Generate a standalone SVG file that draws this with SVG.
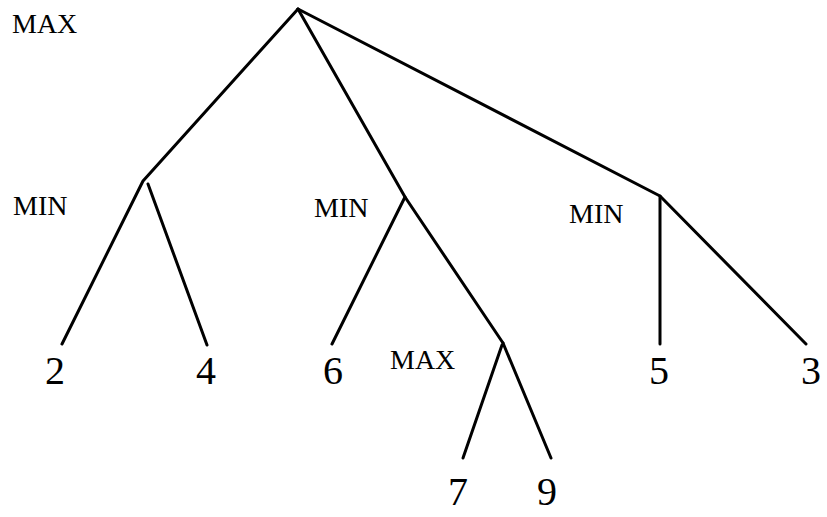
<svg xmlns="http://www.w3.org/2000/svg" width="827" height="517" viewBox="0 0 827 517">
<style>
.e{fill:none;stroke:#000;stroke-width:3;stroke-linecap:round;stroke-linejoin:round}
.l{font-family:"Liberation Serif","Times New Roman",serif;font-size:28px;fill:#000}
.n{font-family:"Liberation Serif","Times New Roman",serif;font-size:40px;fill:#000;text-anchor:middle}
</style>
<rect width="827" height="517" fill="#fff"/>
<g id="connectors">
<polyline class="e" points="298,9 143,181 62,344"/>
<line class="e" x1="148" y1="184" x2="207" y2="345"/>
<polyline class="e" points="298,9 405,197 503,343"/>
<line class="e" x1="405" y1="197" x2="332" y2="344"/>
<polyline class="e" points="298,9 660,196 806,344"/>
<line class="e" x1="660" y1="196" x2="660" y2="344"/>
<line class="e" x1="502" y1="345" x2="463" y2="458"/>
<line class="e" x1="503" y1="343" x2="551" y2="458"/>
</g>
<g id="root"><text class="l" x="12" y="33">MAX</text></g>
<g id="min1"><text class="l" x="13" y="215">MIN</text></g>
<g id="min2"><text class="l" x="314" y="217">MIN</text></g>
<g id="min3"><text class="l" x="569" y="223">MIN</text></g>
<g id="max2"><text class="l" x="390" y="369">MAX</text></g>
<g id="leaf2"><text class="n" x="55" y="384">2</text></g>
<g id="leaf4"><text class="n" x="206" y="384">4</text></g>
<g id="leaf6"><text class="n" x="333" y="384">6</text></g>
<g id="leaf5"><text class="n" x="659" y="384">5</text></g>
<g id="leaf3"><text class="n" x="811" y="384">3</text></g>
<g id="leaf7"><text class="n" x="458" y="505">7</text></g>
<g id="leaf9"><text class="n" x="547" y="505">9</text></g>
</svg>
